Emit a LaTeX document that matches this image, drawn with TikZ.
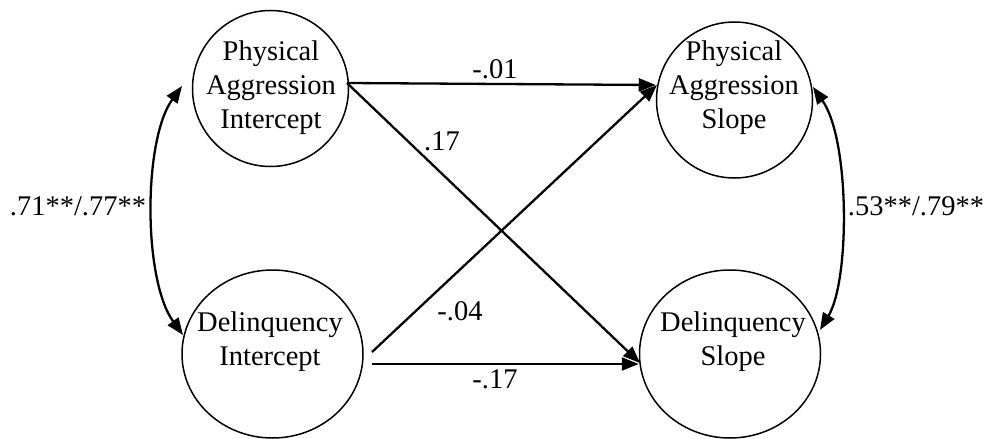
\documentclass[tikz,border=0pt]{standalone}
\usepackage{fontspec}
\setmainfont{Liberation Serif}
\usetikzlibrary{shapes.geometric,arrows.meta}
\tikzset{
  lat/.style={circle,draw,line width=1.5pt,minimum size=156pt,inner sep=0pt},
  late/.style={ellipse,draw,line width=1.5pt,minimum width=181pt,minimum height=168pt,inner sep=0pt},
  txt/.style={align=center,font=\fontsize{28.5}{34}\selectfont,inner sep=0pt},
  lbl/.style={anchor=base,font=\fontsize{28.5}{34}\selectfont,inner sep=0pt},
  tip/.style={Triangle[length=17pt,width=13pt]},
  path/.style={line width=2.3pt,-{Triangle[length=17pt,width=13pt]}},
  dbl/.style={line width=2.3pt,{Triangle[length=17pt,width=13pt]}-{Triangle[length=17pt,width=13pt]}}
}
\begin{document}
\begin{tikzpicture}[x=1pt,y=-1pt]
\useasboundingbox (0,0) rectangle (986,439);
\node[lat] (pai) at (270.5,88.5) {};
\node[lat] (pas) at (734.5,100) {};
\node[late] (di) at (272.5,354) {};
\node[late] (ds) at (730,354) {};
\node[txt] (pait) at (271,88) {Physical\\Aggression\\Intercept};
\node[txt] (past) at (734,88) {Physical\\Aggression\\Slope};
\node[txt] (dit) at (270,342) {Delinquency\\Intercept};
\node[txt] (dst) at (733,342) {Delinquency\\Slope};
\coordinate (pa1) at (347,83);
\coordinate (d1) at (372,352);
\coordinate (d2) at (372,364);
\coordinate (pasin) at (657,85);
\coordinate (dsin) at (640,363);
\draw[path] (pa1) -- (pasin-|pas.west);
\draw[path] (pa1) -- (dsin);
\draw[path] (d1) -- (pasin);
\draw[path] (d2) -- (d2-|ds.west);
\coordinate (lt) at (182,86);
\coordinate (lb) at (183,335);
\coordinate (rt) at (813,87);
\coordinate (rb) at (820,330);
\draw[dbl] (lt) .. controls (143,140) and (143,280) .. (lb);
\draw[dbl] (rt) .. controls (850,140) and (850,280) .. (rb);
\node[lbl] (l1) at (495,78) {-.01};
\node[lbl] (l2) at (442,150) {.17};
\node[lbl] (l3) at (460,320) {-.04};
\node[lbl] (l4) at (495,388) {-.17};
\node[lbl] (l5) at (78,215) {.71**/.77**};
\node[lbl] (l6) at (916,215) {.53**/.79**};
\end{tikzpicture}
\end{document}
